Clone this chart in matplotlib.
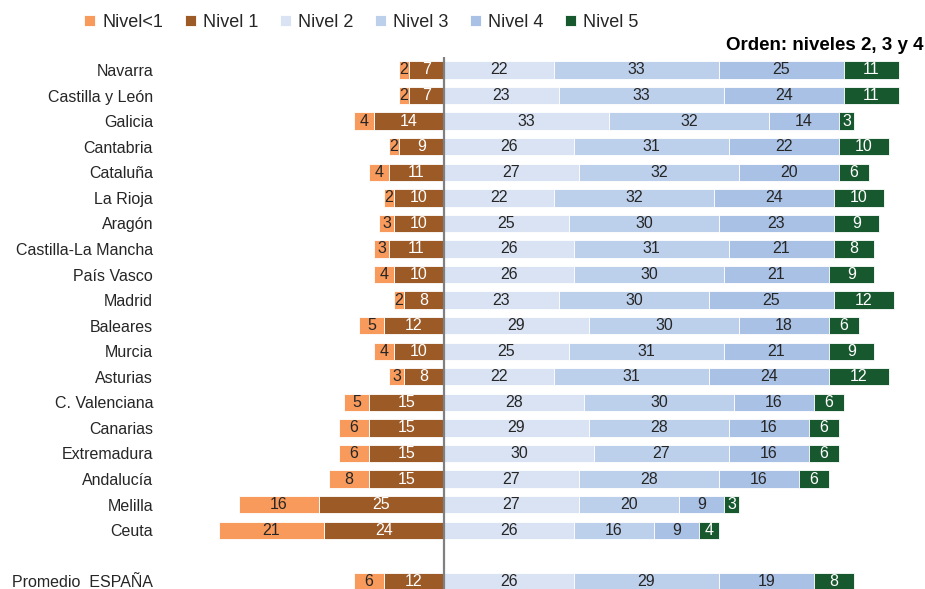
import numpy as np
import matplotlib
matplotlib.use("Agg")
import matplotlib.pyplot as plt

plt.rcParams['font.family'] = ['Liberation Sans', 'DejaVu Sans']

# ── data ──────────────────────────────────────────────────────────────────
regions = ["Navarra", "Castilla y León", "Galicia", "Cantabria", "Cataluña",
           "La Rioja", "Aragón", "Castilla-La Mancha", "País Vasco", "Madrid",
           "Baleares", "Murcia", "Asturias", "C. Valenciana", "Canarias",
           "Extremadura", "Andalucía", "Melilla", "Ceuta", "Promedio  ESPAÑA"]
nivel_lt1 = [2, 2, 4, 2, 4, 2, 3, 3, 4, 2, 5, 4, 3, 5, 6, 6, 8, 16, 21, 6]
nivel_1 = [7, 7, 14, 9, 11, 10, 10, 11, 10, 8, 12, 10, 8, 15, 15, 15, 15, 25, 24, 12]
nivel_2 = [22, 23, 33, 26, 27, 22, 25, 26, 26, 23, 29, 25, 22, 28, 29, 30, 27, 27, 26, 26]
nivel_3 = [33, 33, 32, 31, 32, 32, 30, 31, 30, 30, 30, 31, 31, 30, 28, 27, 28, 20, 16, 29]
nivel_4 = [25, 24, 14, 22, 20, 24, 23, 21, 21, 25, 18, 21, 24, 16, 16, 16, 16, 9, 9, 19]
nivel_5 = [11, 11, 3, 10, 6, 10, 9, 8, 9, 12, 6, 9, 12, 6, 6, 6, 6, 3, 4, 8]

# row positions: one blank row before the national average
ypos = np.r_[np.arange(19), 20]

C_LT1 = "#F79A5B"
C_N1 = "#9C5A27"
C_N2 = "#DAE3F3"
C_N3 = "#BDD0EB"
C_N4 = "#A9C1E5"
C_N5 = "#17582F"
DARK = "#262626"

fig = plt.figure(figsize=(9.25, 5.89), dpi=100)
W, H = 925, 589
ax_left, ax_right = 160, 920
ax = fig.add_axes([ax_left / W, 0, (ax_right - ax_left) / W, (H - 57.2) / H])

bh = 0.68
n1 = np.array(nivel_1)
lt1 = np.array(nivel_lt1)
FS = 11.5

# left side (negative)
segs_left = [(n1, 0, C_N1, "white", "Nivel 1"),
             (lt1, n1, C_LT1, DARK, "Nivel<1")]
handles = {}
for vals, start, col, tcol, name in segs_left:
    b = ax.barh(ypos, -vals, left=-np.asarray(start), height=bh, color=col,
                edgecolor="white", linewidth=0.6)
    handles[name] = b
    for y, v, s in zip(ypos, vals, np.broadcast_to(start, vals.shape)):
        ax.text(-(s + v / 2), y, str(v), ha="center", va="center",
                fontsize=FS, color=tcol)

# right side (positive)
cum = np.zeros(len(regions))
for vals, col, tcol, name in [(nivel_2, C_N2, DARK, "Nivel 2"),
                              (nivel_3, C_N3, DARK, "Nivel 3"),
                              (nivel_4, C_N4, DARK, "Nivel 4"),
                              (nivel_5, C_N5, "white", "Nivel 5")]:
    vals = np.array(vals)
    b = ax.barh(ypos, vals, left=cum, height=bh, color=col,
                edgecolor="white", linewidth=0.6)
    handles[name] = b
    for y, v, s in zip(ypos, vals, cum):
        ax.text(s + v / 2, y, str(v), ha="center", va="center",
                fontsize=FS, color=tcol)
    cum = cum + vals

ax.axvline(0, color="#808080", lw=1.6, zorder=5)

ax.set_xlim(-(444 - ax_left) / 5.0, (ax_right - 444) / 5.0)
ax.set_ylim(20.3, -0.5)
ax.set_yticks(ypos)
ax.set_yticklabels(regions, fontsize=FS, color=DARK)
ax.tick_params(axis="y", length=0, pad=5)
ax.set_xticks([])
for sp in ax.spines.values():
    sp.set_visible(False)

order = ["Nivel<1", "Nivel 1", "Nivel 2", "Nivel 3", "Nivel 4", "Nivel 5"]
fig.legend([handles[k] for k in order], order, loc="upper left",
           bbox_to_anchor=(68 / W, 1.004), ncol=6, frameon=False,
           fontsize=13, handlelength=0.6, handleheight=0.6,
           handletextpad=0.4, columnspacing=1.2, labelcolor=DARK)

fig.text(924 / W, 1 - 46 / H, "Orden: niveles 2, 3 y 4", ha="right",
         va="center", fontsize=13.5, fontweight="bold", color="black")

fig.savefig("out.png", dpi=100)
